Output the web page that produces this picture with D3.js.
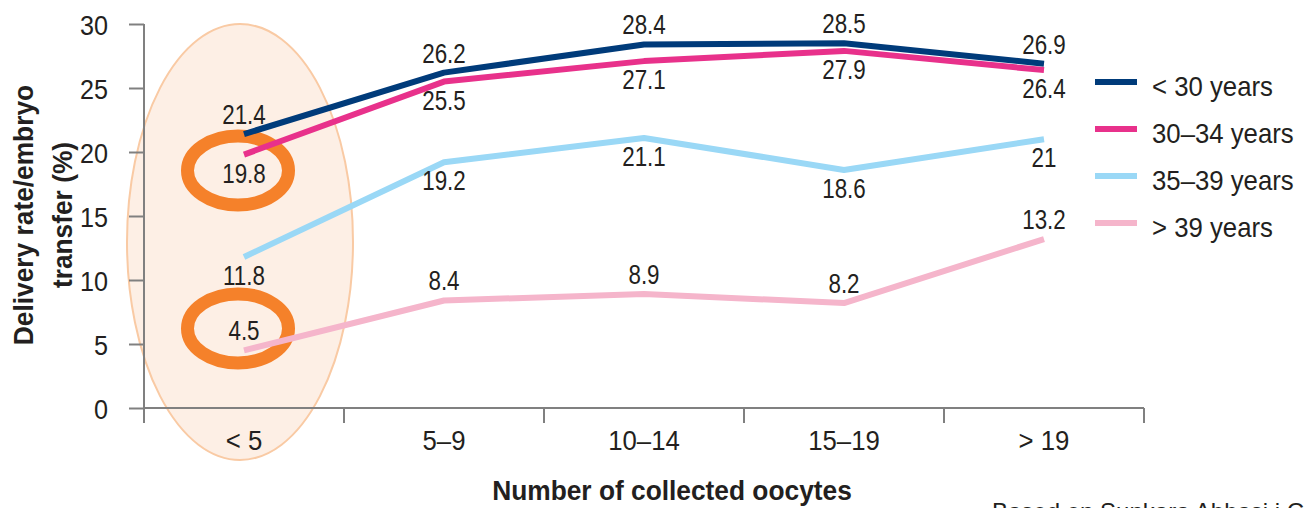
<!DOCTYPE html>
<html>
<head>
<meta charset="utf-8">
<script src="https://cdn.jsdelivr.net/npm/d3@7/dist/d3.min.js"></script>
<style>
  html, body { margin: 0; padding: 0; background: #ffffff; }
  svg { display: block; }
  text { font-family: "Liberation Sans", Arial, sans-serif; fill: #231f20; }
</style>
</head>
<body>
<svg id="chart" width="1306" height="508"></svg>
<script>
// Oocyte-count groups on the x axis
const categories = ["< 5", "5–9", "10–14", "15–19", "> 19"];

// Delivery rate per embryo transfer (%), one array per age group
const under30 = [21.4, 26.2, 28.4, 28.5, 26.9];
const age30to34 = [19.8, 25.5, 27.1, 27.9, 26.4];
const age35to39 = [11.8, 19.2, 21.1, 18.6, 21];
const over39 = [4.5, 8.4, 8.9, 8.2, 13.2];

const seriesNames = ["< 30 years", "30–34 years", "35–39 years", "> 39 years"];
const yTicks = [0, 5, 10, 15, 20, 25, 30];

// Which side of the line each value label sits on
const labelSides = ["above", "below", "below", "above"];
// Series whose first-group value is circled
const highlightedSeries = [1, 3];

const colors = ["#003b7a", "#e8318b", "#9ad8f6", "#f5b5cb"];
const seriesValues = [under30, age30to34, age35to39, over39];
const series = seriesNames.map((name, i) => ({
  name, color: colors[i], side: labelSides[i], values: seriesValues[i]
}));

const svg = d3.select("#chart");
const plotLeft = 144, plotRight = 1144, plotTop = 24, plotBottom = 408;

const x = d3.scaleBand().domain(categories).range([plotLeft, plotRight]);
const xc = c => x(c) + x.bandwidth() / 2;
const y = d3.scaleLinear().domain([0, 30]).range([plotBottom, plotTop]);
const labelY = (s, v) => s.side === "above" ? y(v) - 10 : y(v) + 28;

// Condensed look: squeeze text horizontally around its anchor
function narrow(sel, k) {
  sel.each(function () {
    const t = d3.select(this);
    const x0 = +t.attr("x") || 0;
    t.attr("x", x0 / k);
    const tr = t.attr("transform") || "";
    t.attr("transform", (tr + ` scale(${k},1)`).trim());
  });
}

// Shaded ellipse around the "< 5" group
svg.append("ellipse")
  .attr("cx", xc(categories[0]) - 4)
  .attr("cy", (y(30) + 460) / 2)
  .attr("rx", 113)
  .attr("ry", (460 - y(30)) / 2)
  .attr("fill", "#fdefe5")
  .attr("stroke", "#f9caa4")
  .attr("stroke-width", 2);

// Axes
const axisColor = "#808080";
const yAxis = svg.append("g")
  .attr("transform", `translate(${plotLeft},0)`)
  .call(d3.axisLeft(y).tickValues(yTicks).tickSize(15).tickPadding(8).tickFormat(d3.format("d")));
yAxis.select(".domain").remove();
yAxis.selectAll("line").attr("stroke", axisColor).attr("stroke-width", 2);
yAxis.selectAll("text")
  .style("font-size", "28px")
  .style("font-family", "'Liberation Sans', Arial, sans-serif")
  .attr("fill", "#231f20")
  .attr("dy", "0.36em")
  .attr("x", -36)
  .call(narrow, 0.9);

svg.append("line")
  .attr("x1", plotLeft).attr("x2", plotLeft)
  .attr("y1", plotTop).attr("y2", plotBottom + 15)
  .attr("stroke", axisColor).attr("stroke-width", 2);

const xAxis = svg.append("g")
  .attr("transform", `translate(0,${plotBottom})`)
  .call(d3.axisBottom(x).tickSize(0).tickPadding(0));
xAxis.select(".domain").remove();
xAxis.selectAll("line").remove();
xAxis.selectAll("text")
  .style("font-size", "28px")
  .style("font-family", "'Liberation Sans', Arial, sans-serif")
  .attr("fill", "#231f20")
  .attr("dy", 0)
  .attr("y", 42)
  .call(narrow, 0.92);

svg.append("line")
  .attr("x1", plotLeft).attr("x2", plotRight)
  .attr("y1", plotBottom).attr("y2", plotBottom)
  .attr("stroke", axisColor).attr("stroke-width", 2);

// Category separators
svg.selectAll(".sep")
  .data(categories.map(c => x(c)).concat([plotRight]).slice(1))
  .join("line")
  .attr("class", "sep")
  .attr("x1", d => d).attr("x2", d => d)
  .attr("y1", plotBottom).attr("y2", plotBottom + 15)
  .attr("stroke", axisColor).attr("stroke-width", 2);

// Orange rings around the highlighted value labels
svg.selectAll(".ring")
  .data(highlightedSeries.map(i => series[i]))
  .join("ellipse")
  .attr("class", "ring")
  .attr("cx", xc(categories[0]) - 6)
  .attr("cy", s => labelY(s, s.values[0]) - 12)
  .attr("rx", 50.5)
  .attr("ry", 34.5)
  .attr("fill", "none")
  .attr("stroke", "#f5812a")
  .attr("stroke-width", 13);

// Series lines
const line = d3.line()
  .x((d, i) => xc(categories[i]))
  .y(d => y(d));

svg.selectAll(".series")
  .data(series)
  .join("path")
  .attr("class", "series")
  .attr("d", s => line(s.values))
  .attr("fill", "none")
  .attr("stroke", s => s.color)
  .attr("stroke-width", 6)
  .attr("stroke-linejoin", "round");

// Value labels
series.forEach(s => {
  svg.selectAll(null)
    .data(s.values)
    .join("text")
    .attr("x", (d, i) => xc(categories[i]))
    .attr("y", d => labelY(s, d))
    .attr("text-anchor", "middle")
    .style("font-size", "28px")
    .text(d => d)
    .call(narrow, 0.8);
});

// Legend
const legend = svg.append("g").attr("transform", "translate(1095,82)");
const item = legend.selectAll("g")
  .data(series)
  .join("g")
  .attr("transform", (d, i) => `translate(0,${i * 47})`);
item.append("line")
  .attr("x1", 0).attr("x2", 42)
  .attr("stroke", d => d.color)
  .attr("stroke-width", 6);
item.append("text")
  .attr("x", 57)
  .attr("y", 14)
  .style("font-size", "28px")
  .text(d => d.name)
  .call(narrow, 0.92);

// Axis titles
svg.append("text")
  .attr("x", xc(categories[2]) + 28)
  .attr("y", 500)
  .attr("text-anchor", "middle")
  .style("font-size", "28px")
  .style("font-weight", "bold")
  .text("Number of collected oocytes")
  .call(narrow, 0.94);

const yTitle = svg.append("text")
  .attr("transform", "translate(0,215) rotate(-90)")
  .attr("text-anchor", "middle")
  .style("font-size", "28px")
  .style("font-weight", "bold");
yTitle.append("tspan").attr("x", 0).attr("y", 33).text("Delivery rate/embryo");
yTitle.append("tspan").attr("x", 0).attr("y", 72).text("transfer (%)");
yTitle.call(narrow, 0.94);

// Source note along the bottom edge
svg.append("text")
  .attr("x", 992)
  .attr("y", 520)
  .style("font-size", "24px")
  .text("Based on Sunkara Abbasi i Central");
</script>
</body>
</html>
